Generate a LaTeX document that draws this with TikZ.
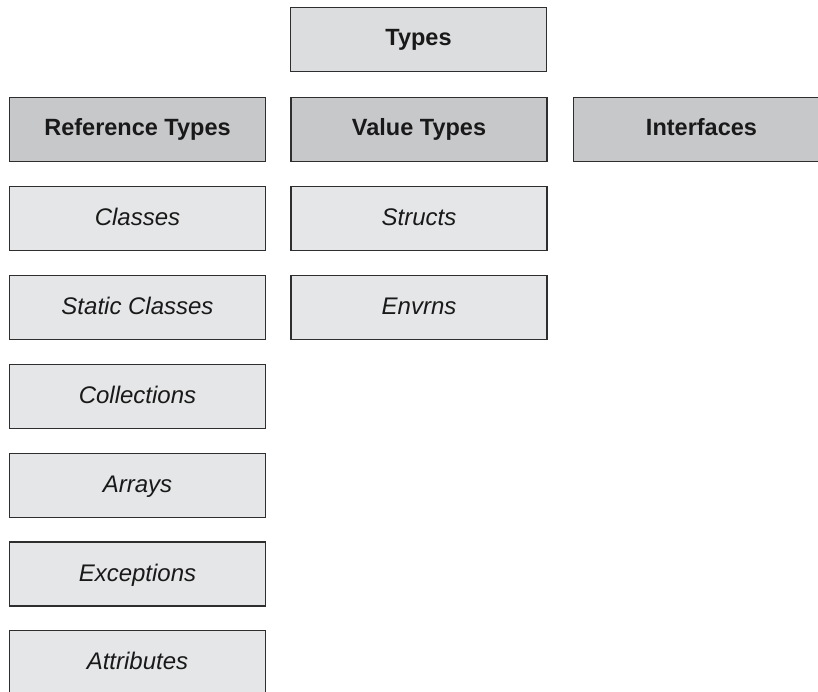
\documentclass[tikz,border=0pt]{standalone}
\usepackage{fontspec}
\setmainfont{Liberation Sans}
\definecolor{topfill}{HTML}{DCDDDE}
\definecolor{headfill}{HTML}{C7C8CA}
\definecolor{itemfill}{HTML}{E5E6E7}
\definecolor{edge}{HTML}{2E2E2E}
\tikzset{
  box/.style={draw=edge, line width=1.4pt, rectangle, minimum width=256pt, minimum height=64pt, inner sep=0pt, text=black!90},
  topbox/.style={box, fill=topfill, text height=17pt, text depth=5pt, font=\fontsize{23.5}{27}\selectfont\bfseries},
  headbox/.style={box, fill=headfill, text height=17pt, text depth=5pt, font=\fontsize{23.5}{27}\selectfont\bfseries},
  itembox/.style={box, fill=itemfill, text height=18pt, text depth=4pt, font=\fontsize{24}{28}\selectfont\itshape}
}
\begin{document}
\begin{tikzpicture}[x=1pt,y=-1pt]
\useasboundingbox (0,0) rectangle (818,692);
\clip (0,0) rectangle (818,692);
\fill[white] (0,0) rectangle (818,692);
\node[topbox] (types) at (418.5,39.5) {Types};
\node[headbox] (ref) at (137.5,129.5) {Reference Types};
\node[headbox] (val) at (419,129.5) {Value Types};
\node[headbox] (intf) at (701.5,129.5) {Interfaces};
\node[itembox] (classes) at (137.5,218.5) {Classes};
\node[itembox] (static) at (137.5,307.5) {Static Classes};
\node[itembox] (coll) at (137.5,396.5) {Collections};
\node[itembox] (arrays) at (137.5,485.5) {Arrays};
\node[itembox] (exc) at (137.5,574) {Exceptions};
\node[itembox] (attr) at (137.5,662.5) {Attributes};
\node[itembox] (structs) at (419,218.5) {Structs};
\node[itembox] (envrns) at (419,307.5) {Envrns};
\end{tikzpicture}
\end{document}
